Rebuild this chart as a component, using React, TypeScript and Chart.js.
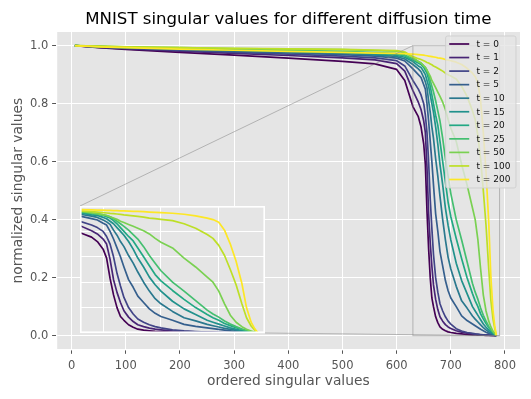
import React, { useEffect, useRef } from "react";
import { Chart, registerables } from "chart.js";

Chart.register(...registerables);

// ---------------- data ----------------
const X_POS = [
  6, 50, 100, 200, 300, 400, 500, 560, 600, 615,
  630, 640, 645, 650, 653, 656, 659, 662, 665, 668,
  672, 676, 680, 685, 690, 695, 700, 710, 720, 730,
  740, 745, 750, 755, 760, 765, 770, 774, 778, 781,
  784,
];

const SERIES_LABELS = ["t = 0", "t = 1", "t = 2", "t = 5", "t = 10", "t = 15", "t = 20", "t = 25", "t = 50", "t = 100", "t = 200"];

const T0 = [
  1.0, 0.993, 0.987, 0.977, 0.967, 0.957, 0.946, 0.937, 0.918, 0.88,
  0.79, 0.755, 0.72, 0.66, 0.59, 0.43, 0.3, 0.2, 0.13, 0.1,
  0.065, 0.045, 0.03, 0.022, 0.017, 0.013, 0.011, 0.008, 0.006, 0.004,
  0.003, 0.003, 0.002, 0.002, 0.002, 0.001, 0.001, 0.001, 0.0005, 0.0003,
  0,
];
const T1 = [
  1.0, 0.994, 0.989, 0.981, 0.973, 0.966, 0.958, 0.951, 0.938, 0.912,
  0.845, 0.805, 0.78, 0.74, 0.7, 0.58, 0.42, 0.32, 0.24, 0.175,
  0.125, 0.09, 0.065, 0.05, 0.038, 0.03, 0.025, 0.017, 0.012, 0.009,
  0.006, 0.005, 0.004, 0.003, 0.003, 0.002, 0.002, 0.001, 0.001, 0.0005,
  0,
];
const T2 = [
  1.0, 0.995, 0.991, 0.984, 0.977, 0.971, 0.964, 0.958, 0.948, 0.93,
  0.88, 0.85, 0.83, 0.8, 0.76, 0.7, 0.6, 0.47, 0.37, 0.28,
  0.2, 0.15, 0.11, 0.085, 0.065, 0.05, 0.04, 0.024, 0.016, 0.011,
  0.008, 0.006, 0.005, 0.004, 0.003, 0.003, 0.002, 0.0015, 0.001, 0.0005,
  0,
];
const T5 = [
  1.0, 0.996, 0.992, 0.986, 0.98, 0.975, 0.969, 0.964, 0.957, 0.947,
  0.92, 0.9, 0.89, 0.865, 0.85, 0.8, 0.74, 0.67, 0.6, 0.52,
  0.42, 0.36, 0.29, 0.24, 0.19, 0.155, 0.13, 0.1, 0.068, 0.052,
  0.04, 0.034, 0.028, 0.022, 0.017, 0.012, 0.008, 0.005, 0.003, 0.002,
  0,
];
const T10 = [
  1.0, 0.996, 0.993, 0.988, 0.983, 0.978, 0.973, 0.968, 0.962, 0.954,
  0.935, 0.92, 0.91, 0.89, 0.875, 0.855, 0.81, 0.77, 0.72, 0.68,
  0.61, 0.55, 0.48, 0.4, 0.33, 0.27, 0.23, 0.17, 0.12, 0.095,
  0.068, 0.057, 0.047, 0.037, 0.028, 0.02, 0.013, 0.009, 0.005, 0.003,
  0,
];
const T15 = [
  1.0, 0.997, 0.994, 0.989, 0.985, 0.98, 0.976, 0.971, 0.966, 0.96,
  0.945, 0.93, 0.925, 0.91, 0.9, 0.88, 0.86, 0.83, 0.8, 0.77,
  0.72, 0.66, 0.59, 0.52, 0.44, 0.38, 0.33, 0.25, 0.19, 0.145,
  0.1, 0.085, 0.07, 0.055, 0.04, 0.029, 0.019, 0.012, 0.007, 0.004,
  0,
];
const T20 = [
  1.0, 0.997, 0.994, 0.99, 0.986, 0.982, 0.978, 0.974, 0.97, 0.965,
  0.95, 0.94, 0.935, 0.925, 0.915, 0.905, 0.885, 0.86, 0.83, 0.8,
  0.76, 0.725, 0.67, 0.6, 0.53, 0.46, 0.41, 0.335, 0.265, 0.2,
  0.145, 0.12, 0.1, 0.075, 0.058, 0.042, 0.028, 0.018, 0.01, 0.005,
  0,
];
const T25 = [
  1.0, 0.997, 0.995, 0.991, 0.987, 0.984, 0.98, 0.976, 0.973, 0.968,
  0.955, 0.945, 0.94, 0.93, 0.925, 0.915, 0.9, 0.88, 0.86, 0.84,
  0.81, 0.775, 0.74, 0.68, 0.61, 0.55, 0.49, 0.4, 0.33, 0.255,
  0.18, 0.15, 0.125, 0.095, 0.07, 0.05, 0.032, 0.02, 0.012, 0.006,
  0,
];
const T50 = [
  1.0, 0.998, 0.996, 0.993, 0.99, 0.988, 0.986, 0.983, 0.981, 0.976,
  0.96, 0.945, 0.94, 0.93, 0.925, 0.915, 0.905, 0.895, 0.88, 0.87,
  0.855, 0.84, 0.825, 0.805, 0.78, 0.745, 0.715, 0.67, 0.59, 0.52,
  0.44, 0.4, 0.33, 0.23, 0.14, 0.085, 0.05, 0.03, 0.015, 0.008,
  0,
];
const T100 = [
  1.0, 0.998, 0.996, 0.993, 0.991, 0.989, 0.987, 0.985, 0.983, 0.978,
  0.962, 0.955, 0.952, 0.948, 0.945, 0.942, 0.94, 0.937, 0.934, 0.93,
  0.926, 0.922, 0.918, 0.912, 0.905, 0.9, 0.895, 0.885, 0.86, 0.825,
  0.775, 0.745, 0.69, 0.61, 0.5, 0.38, 0.23, 0.12, 0.055, 0.025,
  0,
];
const T200 = [
  1.0, 0.996, 0.993, 0.988, 0.984, 0.98, 0.977, 0.974, 0.973, 0.972,
  0.971, 0.969, 0.968, 0.967, 0.966, 0.965, 0.964, 0.963, 0.962, 0.961,
  0.96, 0.958, 0.957, 0.955, 0.952, 0.95, 0.948, 0.943, 0.935, 0.922,
  0.905, 0.893, 0.872, 0.81, 0.7, 0.565, 0.39, 0.2, 0.085, 0.035,
  0,
];

const SERIES = [T0, T1, T2, T5, T10, T15, T20, T25, T50, T100, T200];
const COLORS = ["#440154", "#482475", "#414487", "#355f8d", "#2a788e", "#21918c", "#22a884", "#44bf70", "#7ad151", "#bddf26", "#fde725"];

const X_TICKS = [0, 100, 200, 300, 400, 500, 600, 700, 800];
const Y_TICKS = [0, 0.2, 0.4, 0.6, 0.8, 1.0];
const INSET_X_TICKS = [650, 700, 750];
const INSET_Y_TICKS = [0.2, 0.4, 0.6, 0.8];
const X_RANGE = [-27.7, 827.7];
const Y_RANGE = [-0.047, 1.047];
const ZOOM_X = [630, 790];
const ZOOM_Y = [0, 1];

const TITLE = "MNIST singular values for different diffusion time";
const X_TITLE = "ordered singular values";
const Y_TITLE = "normalized singular values";

// ---------------- styling ----------------
const FONT = "'DejaVu Sans', sans-serif";
const BG = "#E5E5E5";
const TEXT_GRAY = "#555555";
const INSET_FRAC = [0.05, 0.05, 0.4, 0.4]; // left, bottom, width, height (axes fraction)

function insetRect(ca: any) {
  const w = ca.right - ca.left;
  const h = ca.bottom - ca.top;
  const left = Math.round(ca.left + INSET_FRAC[0] * w);
  const bottom = Math.round(ca.bottom - INSET_FRAC[1] * h);
  const width = Math.round(INSET_FRAC[2] * w);
  const height = Math.round(INSET_FRAC[3] * h);
  return { left, top: bottom - height, width, height };
}

function buildDatasets() {
  return SERIES.map((ys, i) => ({
    label: SERIES_LABELS[i],
    data: X_POS.map((x, j) => ({ x, y: ys[j] })),
    borderColor: COLORS[i],
    backgroundColor: COLORS[i],
    borderWidth: 1.7,
    pointRadius: 0,
    tension: 0,
    fill: false,
    borderJoinStyle: "round" as const,
    order: SERIES.length - 1 - i,
  }));
}

const backgroundPlugin = {
  id: "bgPlugin",
  beforeDraw(chart: any) {
    const { ctx, chartArea: ca } = chart;
    ctx.save();
    ctx.fillStyle = "#ffffff";
    ctx.fillRect(0, 0, chart.width, chart.height);
    ctx.fillStyle = BG;
    ctx.fillRect(ca.left, ca.top, ca.right - ca.left, ca.bottom - ca.top);
    ctx.restore();
  },
};

const zoomIndicatorPlugin = {
  id: "zoomIndicator",
  afterDatasetsDraw(chart: any) {
    const { ctx, chartArea: ca } = chart;
    const xs = chart.scales.x;
    const ys = chart.scales.y;
    const rx0 = xs.getPixelForValue(ZOOM_X[0]);
    const rx1 = xs.getPixelForValue(ZOOM_X[1]);
    const ry0 = ys.getPixelForValue(ZOOM_Y[1]);
    const ry1 = ys.getPixelForValue(ZOOM_Y[0]);
    const ir = insetRect(ca);
    ctx.save();
    ctx.strokeStyle = "rgba(128,128,128,0.5)";
    ctx.lineWidth = 1;
    ctx.strokeRect(rx0, ry0, rx1 - rx0, ry1 - ry0);
    ctx.beginPath();
    ctx.moveTo(ir.left, ir.top);
    ctx.lineTo(rx0, ry0);
    ctx.moveTo(ir.left + ir.width, ir.top + ir.height);
    ctx.lineTo(rx1, ry1);
    ctx.stroke();
    ctx.restore();
  },
};

const legendPlugin = {
  id: "boxLegend",
  afterDraw(chart: any) {
    const { ctx, chartArea: ca } = chart;
    const fs = 9;
    ctx.save();
    ctx.font = `${fs}px ${FONT}`;
    let maxW = 0;
    SERIES_LABELS.forEach((l) => (maxW = Math.max(maxW, ctx.measureText(l).width)));
    const pad = 3.6;
    const handle = 20;
    const gap = 7.2;
    const rowH = 13.55;
    const boxW = pad + handle + gap + maxW + pad + 2;
    const boxH = 8 + rowH * (SERIES_LABELS.length - 1) + 8.5;
    const right = ca.right - 4;
    const top = ca.top + 4;
    const left = right - boxW;
    ctx.beginPath();
    if (ctx.roundRect) ctx.roundRect(left, top, boxW, boxH, 2);
    else ctx.rect(left, top, boxW, boxH);
    ctx.fillStyle = "rgba(229,229,229,0.8)";
    ctx.fill();
    ctx.strokeStyle = "rgba(204,204,204,0.8)";
    ctx.lineWidth = 1;
    ctx.stroke();
    SERIES_LABELS.forEach((label, i) => {
      const cy = top + 8 + i * rowH;
      ctx.beginPath();
      ctx.strokeStyle = COLORS[i];
      ctx.lineWidth = 1.7;
      ctx.moveTo(left + pad, cy);
      ctx.lineTo(left + pad + handle, cy);
      ctx.stroke();
      ctx.fillStyle = "#111111";
      ctx.textAlign = "left";
      ctx.textBaseline = "middle";
      ctx.fillText(label, left + pad + handle + gap, cy + 0.5);
    });
    ctx.restore();
  },
};

const insetFramePlugin = {
  id: "insetFrame",
  beforeDraw(chart: any) {
    const { ctx, chartArea: ca } = chart;
    ctx.save();
    ctx.fillStyle = BG;
    ctx.fillRect(ca.left, ca.top, ca.right - ca.left, ca.bottom - ca.top);
    ctx.restore();
  },
  afterDraw(chart: any) {
    const { ctx } = chart;
    ctx.save();
    ctx.strokeStyle = "#ffffff";
    ctx.lineWidth = 1.6;
    ctx.strokeRect(0.8, 0.8, chart.width - 1.6, chart.height - 1.6);
    ctx.restore();
  },
};

export default function App() {
  const mainRef = useRef<HTMLCanvasElement>(null);
  const insetRef = useRef<HTMLCanvasElement>(null);

  useEffect(() => {
    const mainCanvas = mainRef.current!;
    const insetCanvas = insetRef.current!;

    const main = new Chart(mainCanvas, {
      type: "line",
      data: { datasets: buildDatasets() as any },
      options: {
        animation: false,
        responsive: false,
        devicePixelRatio: 1,
        events: [],
        layout: { padding: { left: 0, right: 11, top: 0, bottom: 0 } },
        plugins: {
          legend: { display: false },
          tooltip: { enabled: false },
          title: {
            display: true,
            text: TITLE,
            color: "#000000",
            fullSize: false,
            align: "center",
            font: { family: FONT, size: 16.6, weight: "normal", lineHeight: 1.2 },
            padding: { top: 10, bottom: 2.08 },
          },
        },
        scales: {
          x: {
            type: "linear",
            min: X_RANGE[0],
            max: X_RANGE[1],
            afterBuildTicks: (s: any) => {
              s.ticks = X_TICKS.map((v) => ({ value: v }));
            },
            afterFit: (s: any) => {
              s.height = 49.7;
            },
            grid: { color: "#ffffff", lineWidth: 1, tickColor: TEXT_GRAY, tickLength: 4.5, tickWidth: 1 },
            border: { display: true, color: "#ffffff", width: 1.2 },
            ticks: {
              color: TEXT_GRAY,
              font: { family: FONT, size: 11.5 },
              padding: 5,
              maxRotation: 0,
              autoSkip: false,
              callback: (v: any) => String(v),
            },
            title: {
              display: true,
              text: X_TITLE,
              color: TEXT_GRAY,
              font: { family: FONT, size: 13.8, lineHeight: 1.2 },
              padding: { top: 0, bottom: 9.7 },
            },
          },
          y: {
            type: "linear",
            min: Y_RANGE[0],
            max: Y_RANGE[1],
            afterBuildTicks: (s: any) => {
              s.ticks = Y_TICKS.map((v) => ({ value: v }));
            },
            afterFit: (s: any) => {
              s.width = 56.6;
            },
            grid: { color: "#ffffff", lineWidth: 1, tickColor: TEXT_GRAY, tickLength: 4.5, tickWidth: 1 },
            border: { display: true, color: "#ffffff", width: 1.2 },
            ticks: {
              color: TEXT_GRAY,
              font: { family: FONT, size: 11.5 },
              padding: 3.8,
              autoSkip: false,
              callback: (v: any) => Number(v).toFixed(1),
            },
            title: {
              display: true,
              text: Y_TITLE,
              color: TEXT_GRAY,
              font: { family: FONT, size: 13.8, lineHeight: 1.2 },
              padding: { top: 9.7, bottom: 0 },
            },
          },
        },
      } as any,
      plugins: [backgroundPlugin, zoomIndicatorPlugin, legendPlugin],
    });

    const ir = insetRect(main.chartArea);
    insetCanvas.width = ir.width;
    insetCanvas.height = ir.height;
    insetCanvas.style.left = `${ir.left}px`;
    insetCanvas.style.top = `${ir.top}px`;
    insetCanvas.style.width = `${ir.width}px`;
    insetCanvas.style.height = `${ir.height}px`;

    const inset = new Chart(insetCanvas, {
      type: "line",
      data: { datasets: buildDatasets() as any },
      options: {
        animation: false,
        responsive: false,
        devicePixelRatio: 1,
        events: [],
        layout: { padding: 0 },
        plugins: {
          legend: { display: false },
          tooltip: { enabled: false },
          title: { display: false },
        },
        scales: {
          x: {
            type: "linear",
            min: ZOOM_X[0],
            max: ZOOM_X[1],
            afterBuildTicks: (s: any) => {
              s.ticks = INSET_X_TICKS.map((v) => ({ value: v }));
            },
            afterFit: (s: any) => {
              s.height = 0;
            },
            ticks: { display: false },
            grid: { color: "#ffffff", lineWidth: 1, drawTicks: false },
            border: { display: false },
          },
          y: {
            type: "linear",
            min: ZOOM_Y[0],
            max: ZOOM_Y[1],
            afterBuildTicks: (s: any) => {
              s.ticks = INSET_Y_TICKS.map((v) => ({ value: v }));
            },
            afterFit: (s: any) => {
              s.width = 0;
            },
            ticks: { display: false },
            grid: { color: "#ffffff", lineWidth: 1, drawTicks: false },
            border: { display: false },
          },
        },
      } as any,
      plugins: [insetFramePlugin],
    });

    return () => {
      main.destroy();
      inset.destroy();
    };
  }, []);

  return (
    <div style={{ position: "absolute", left: 0, top: 0, width: 531, height: 399, background: "#ffffff" }}>
      <canvas
        ref={mainRef}
        width={531}
        height={399}
        style={{ position: "absolute", left: 0, top: 0, width: 531, height: 399, display: "block" }}
      />
      <canvas ref={insetRef} style={{ position: "absolute", display: "block" }} />
    </div>
  );
}
